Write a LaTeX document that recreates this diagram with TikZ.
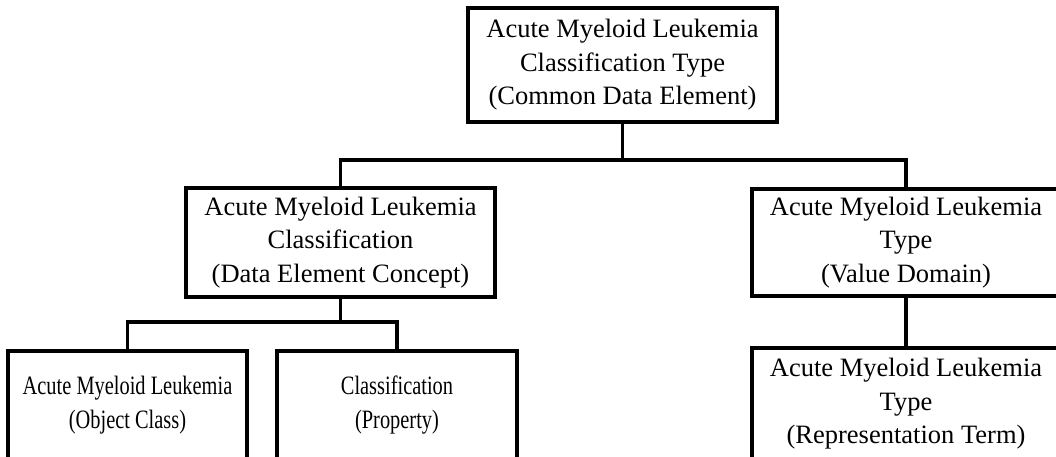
\documentclass[tikz,border=0pt]{standalone}
\usepackage{fontspec}
\setmainfont{Liberation Serif}
% horizontally condensed multi-line label
\newcommand{\narrowlines}[1]{\scalebox{0.77}[1]{\begin{tabular}{@{}c@{}}#1\end{tabular}}}
\begin{document}
\begin{tikzpicture}[x=1pt,y=-1pt,
  box/.style={draw=black, line width=3.5pt, fill=white, align=center,
    font=\fontsize{26.5}{33.5}\selectfont, inner sep=0pt},
  link/.style={draw=black, line width=3.5pt}]
\useasboundingbox (0,0) rectangle (1056,456);
\clip (0,0) rectangle (1056,456);

% levels of the element hierarchy
\node[box, minimum width=309pt, minimum height=114pt] (cde) at (622.5,65)
  {Acute Myeloid Leukemia\\Classification Type\\(Common Data Element)};
\node[box, minimum width=309pt, minimum height=109pt] (dec) at (340.5,242.5)
  {Acute Myeloid Leukemia\\Classification\\(Data Element Concept)};
\node[box, minimum width=308pt, minimum height=107pt] (vd) at (906,242.5)
  {Acute Myeloid Leukemia\\Type\\(Value Domain)};
\node[box, minimum width=239pt, minimum height=108pt] (oc) at (127.5,405)
  {\narrowlines{Acute Myeloid Leukemia\\(Object Class)}};
\node[box, minimum width=240pt, minimum height=108pt] (prop) at (397,405)
  {\narrowlines{Classification\\(Property)}};
\node[box, minimum width=308pt, minimum height=112pt] (rt) at (906,404)
  {Acute Myeloid Leukemia\\Type\\(Representation Term)};

% junctions of the tree connectors
\coordinate (j1) at (622.5,160);
\coordinate (j2) at (340.5,322);

\draw[link] (cde.south) -- (j1);
\draw[link] (dec.north) -- (dec.north |- j1) -- (vd.north |- j1) -- (vd.north);
\draw[link] (dec.south) -- (j2);
\draw[link] (oc.north) -- (oc.north |- j2) -- (prop.north |- j2) -- (prop.north);
\draw[link] (vd.south) -- (rt.north);
\end{tikzpicture}
\end{document}
